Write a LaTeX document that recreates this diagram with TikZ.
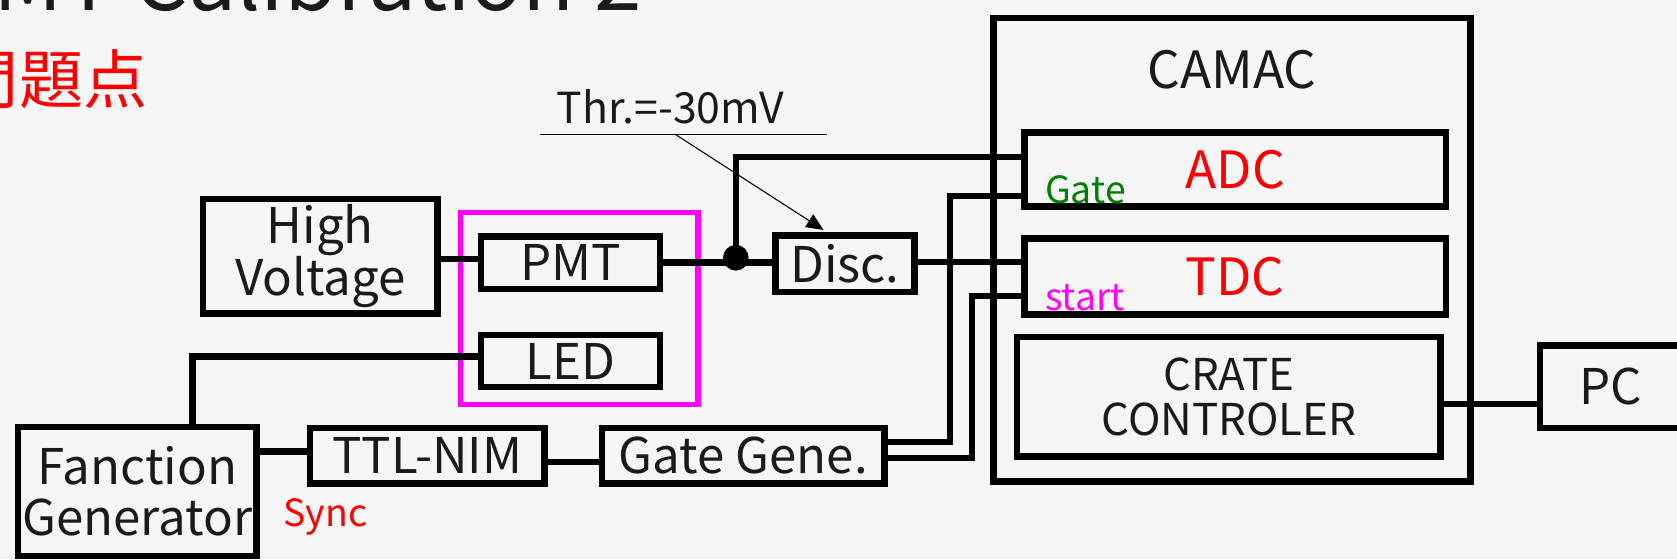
\documentclass[tikz,border=0pt]{standalone}
\usepackage{fontspec}
\setmainfont{Noto Sans CJK JP}
\usetikzlibrary{arrows.meta}
\definecolor{ink}{HTML}{1A1A1A}
\definecolor{bg}{HTML}{F6F6F6}
\definecolor{mag}{HTML}{FF00FF}
\definecolor{grn}{HTML}{008000}
\definecolor{rd}{HTML}{FF0000}
\begin{document}
\begin{tikzpicture}[x=1pt,y=-1pt,
  box/.style={draw=black, line width=6pt, rectangle, inner sep=0pt, outer sep=0pt, text=ink, align=center, font=\fontsize{46}{48}\selectfont},
  wire/.style={line width=6pt, line cap=rect, line join=miter},
  lbl/.style={inner sep=0pt, text=ink},
  port/.style={inner sep=0pt, anchor=base west, font=\fontsize{35}{35}\selectfont}]
\useasboundingbox (0,0) rectangle (1568,523);
\clip (0,0) rectangle (1568,523);
\fill[bg] (0,0) rectangle (1568,523);

% titles
\node[lbl, anchor=base east, font=\fontsize{80}{80}\selectfont] (title) at (600,10) {PMT Calibration 2};
\node[inner sep=0pt, anchor=base east, text=rd, font=\fontsize{60}{60}\selectfont] (sub) at (138,97) {問題点};

% CAMAC crate
\node[box, minimum width=446pt, minimum height=433pt] (camac) at (1152,233.5) {};
\node[lbl, font=\fontsize{48}{48}\selectfont] (camaclbl) at (1152,65) {CAMAC};
\node[box, minimum width=394pt, minimum height=69pt, text=rd, font=\fontsize{48}{48}\selectfont] (adc) at (1155,158.5) {ADC};
\node[box, minimum width=394pt, minimum height=71pt, text=rd, font=\fontsize{48}{48}\selectfont] (tdc) at (1155,258.5) {TDC};
\node[box, minimum width=396pt, minimum height=112pt, font=\fontsize{41}{42}\selectfont] (crate) at (1149,371) {CRATE\\CONTROLER};
\node[port, text=grn] (gatelbl) at (977,190) {Gate};
\node[port, text=mag] (startlbl) at (977,290) {start};

% other modules
\node[box, minimum width=219pt, minimum height=107pt] (hv) at (299.5,239.5) {High\\Voltage};
\draw[mag, line width=5pt] (430.5,198.5) rectangle (652.5,378.5);
\node[box, minimum width=167pt, minimum height=49pt] (pmt) at (533.5,245.5) {PMT};
\node[box, minimum width=167pt, minimum height=49pt] (led) at (533.5,337.5) {LED};
\node[box, minimum width=130pt, minimum height=53pt] (disc) at (790,246.5) {Disc.};
\node[box, minimum width=132pt, minimum height=77pt] (pc) at (1506,361.5) {PC};
\node[box, minimum width=223pt, minimum height=121pt] (fg) at (128.5,459.5) {Fanction\\Generator};
\node[box, minimum width=219pt, minimum height=52pt] (ttl) at (399.5,426) {TTL-NIM};
\node[box, minimum width=264pt, minimum height=52pt] (gg) at (695,426) {Gate Gene.};
\node[port, text=rd] (synclbl) at (265,492) {Sync};

% wires
\draw[wire] ([yshift=-2.5pt]hv.east) -- ([yshift=-2.5pt]hv.east -| pmt.west);
\draw[wire] (pmt.east) -- (pmt.east -| disc.west);
\node[circle, fill=black, minimum size=24pt, inner sep=0pt] (dot) at (688,241) {};
\draw[wire] (dot.center) -- (688,147) -- ([yshift=11.5pt]adc.west);
\draw[wire] ([yshift=1.5pt]disc.east) -- ([yshift=1.5pt]disc.east -| tdc.west);
\draw[wire] ([yshift=13pt]gg.east) -| (888,183) -- ([yshift=-24.5pt]adc.west);
\draw[wire] ([yshift=-2pt]gg.east) -| (909,277) -- ([yshift=-18.5pt]tdc.west);
\draw[wire] ([yshift=-7pt]crate.east) -- ([yshift=-7pt]crate.east -| pc.west);
\draw[wire] ([xshift=51.5pt]fg.north) |- ([yshift=4pt]led.west);
\draw[wire] ([yshift=4pt]ttl.west) -- ([yshift=4pt]ttl.west -| fg.east);
\draw[wire] ([yshift=-6pt]ttl.east) -- ([yshift=-6pt]gg.west);

% threshold
\node[lbl, font=\fontsize{40}{40}\selectfont] (thr) at (627,100) {Thr.=-30mV};
\coordinate (thrA) at (505,126);
\coordinate (thrB) at (773,126);
\coordinate (thrS) at (632,126);
\draw[line width=1pt] (thrA) -- (thrB);
\draw[line width=1pt, -{Triangle[length=16pt,width=14pt]}] (thrS) -- ([xshift=-20pt,yshift=5pt]disc.north);
\end{tikzpicture}
\end{document}
